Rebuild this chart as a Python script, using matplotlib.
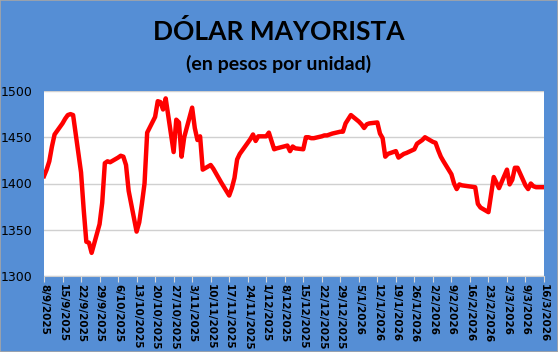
import matplotlib
matplotlib.use("Agg")
import matplotlib.pyplot as plt
import matplotlib.dates as mdates
from matplotlib.ticker import FuncFormatter
import datetime as dt

dates = [
    "2025-09-08", "2025-09-09", "2025-09-10", "2025-09-11", "2025-09-12",
    "2025-09-15", "2025-09-16", "2025-09-17", "2025-09-18", "2025-09-19",
    "2025-09-22", "2025-09-23", "2025-09-24", "2025-09-25", "2025-09-26",
    "2025-09-29", "2025-09-30", "2025-10-01", "2025-10-02", "2025-10-03",
    "2025-10-06", "2025-10-07", "2025-10-08", "2025-10-09", "2025-10-10",
    "2025-10-13", "2025-10-14", "2025-10-15", "2025-10-16", "2025-10-17",
    "2025-10-20", "2025-10-21", "2025-10-22", "2025-10-23", "2025-10-24",
    "2025-10-27", "2025-10-28", "2025-10-29", "2025-10-30", "2025-10-31",
    "2025-11-03", "2025-11-04", "2025-11-05", "2025-11-06", "2025-11-07",
    "2025-11-10", "2025-11-11", "2025-11-12", "2025-11-13", "2025-11-14",
    "2025-11-17", "2025-11-18", "2025-11-19", "2025-11-20", "2025-11-21",
    "2025-11-24", "2025-11-25", "2025-11-26", "2025-11-27", "2025-11-28",
    "2025-12-01", "2025-12-02", "2025-12-03", "2025-12-04", "2025-12-05",
    "2025-12-09", "2025-12-10", "2025-12-11", "2025-12-12",
    "2025-12-15", "2025-12-16", "2025-12-17", "2025-12-18", "2025-12-19",
    "2025-12-22", "2025-12-23", "2025-12-24", "2025-12-26",
    "2025-12-29", "2025-12-30", "2025-12-31", "2026-01-02",
    "2026-01-05", "2026-01-06", "2026-01-07", "2026-01-08", "2026-01-09",
    "2026-01-12", "2026-01-13", "2026-01-14", "2026-01-15", "2026-01-16",
    "2026-01-19", "2026-01-20", "2026-01-21", "2026-01-22", "2026-01-23",
    "2026-01-26", "2026-01-27", "2026-01-28", "2026-01-29", "2026-01-30",
    "2026-02-02", "2026-02-03", "2026-02-04", "2026-02-05", "2026-02-06",
    "2026-02-09", "2026-02-10", "2026-02-11", "2026-02-12", "2026-02-13",
    "2026-02-18", "2026-02-19", "2026-02-20",
    "2026-02-23", "2026-02-24", "2026-02-25", "2026-02-26", "2026-02-27",
    "2026-03-02", "2026-03-03", "2026-03-04", "2026-03-05", "2026-03-06",
    "2026-03-09", "2026-03-10", "2026-03-11", "2026-03-12", "2026-03-13",
    "2026-03-16",
]
values = [
    1408, 1415, 1424, 1440, 1453,
    1465, 1470, 1474, 1475, 1474,
    1412, 1372, 1337, 1336, 1325,
    1356, 1379, 1422, 1424, 1423,
    1428, 1430, 1429, 1420, 1392,
    1348, 1358, 1378, 1400, 1455,
    1472, 1489, 1488, 1480, 1492,
    1434, 1469, 1466, 1429, 1450,
    1482, 1460, 1447, 1451, 1415,
    1420, 1416, 1411, 1406, 1401,
    1387, 1395, 1406, 1426, 1432,
    1444, 1448, 1453, 1446, 1451,
    1451, 1455, 1446, 1437, 1438,
    1441, 1435, 1440, 1438,
    1437, 1450, 1450, 1449, 1449,
    1451, 1452, 1452, 1454,
    1456, 1456, 1465, 1474,
    1467, 1464, 1460, 1464, 1465,
    1466, 1454, 1449, 1429, 1432,
    1435, 1428, 1430, 1432, 1433,
    1437, 1443, 1445, 1447, 1450,
    1445, 1444, 1436, 1429, 1424,
    1410, 1400, 1394, 1399, 1398,
    1396, 1378, 1374,
    1369, 1388, 1407, 1401, 1395,
    1415, 1399, 1404, 1417, 1417,
    1398, 1394, 1400, 1397, 1396,
    1396,
]
y_ticks = [1300, 1350, 1400, 1450, 1500]
title = "DÓLAR MAYORISTA"
subtitle = "(en pesos por unidad)"

x = [dt.datetime.strptime(d, "%Y-%m-%d") for d in dates]

BG = "#558ED5"
fig = plt.figure(figsize=(5.58, 3.52), dpi=100, facecolor=BG)
fig.patches.append(plt.Rectangle((0, 0), 1, 1, transform=fig.transFigure,
                                 fill=False, edgecolor="#A6A6A6", linewidth=1.2))

ax = fig.add_axes([44/558, 1 - 276/352, 500/558, 185/352])
ax.set_facecolor("white")
ax.plot(x, values, color="#FF0000", linewidth=3.2, solid_joinstyle="round", zorder=3)

start = dt.datetime(2025, 9, 8)
end = dt.datetime(2026, 3, 16)
ax.set_xlim(start, end)
ax.set_ylim(1300, 1500)
ax.set_yticks(y_ticks)
ticks = []
t = start
while t <= end:
    ticks.append(t)
    t += dt.timedelta(days=7)
ax.set_xticks(ticks)
ax.xaxis.set_major_formatter(FuncFormatter(
    lambda v, p: (lambda d: f"{d.day}/{d.month}/{d.year}")(mdates.num2date(v))))

ax.grid(axis="y", color="#D0D0D0", linewidth=1.0, zorder=0)
for s in ["top", "right", "left"]:
    ax.spines[s].set_visible(False)
ax.spines["bottom"].set_color("#D0D0D0")
ax.tick_params(axis="y", length=0, pad=8, labelsize=9, labelcolor="black")
ax.tick_params(axis="x", direction="out", length=4, color="#D9D9D9", pad=2,
               labelsize=7.5, labelcolor="black")
for lab in ax.get_xticklabels():
    lab.set_rotation(-90)
    lab.set_fontweight("bold")
    lab.set_ha("center")
    lab.set_va("top")

fig.text(0.5, 1 - 31/352, title, ha="center", va="center", fontsize=19,
         fontweight="bold", family="Lato", color="black")
fig.text(0.5, 1 - 64/352, subtitle, ha="center", va="center", fontsize=14,
         fontweight="bold", family="Lato", color="black")

fig.savefig("out.png", dpi=100, facecolor=BG)
